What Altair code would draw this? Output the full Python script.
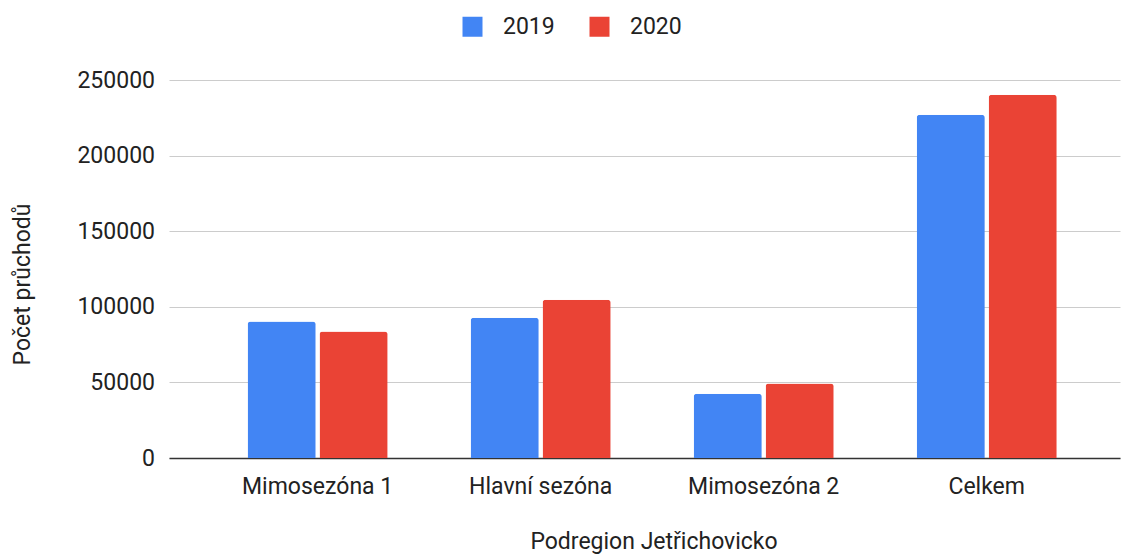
import altair as alt
import pandas as pd

categories = ["Mimosezóna 1", "Hlavní sezóna", "Mimosezóna 2", "Celkem"]
years = ["2019", "2020"]
values_2019 = [90300, 92800, 42500, 227000]
values_2020 = [83600, 104600, 49300, 240300]
y_ticks = [0, 50000, 100000, 150000, 200000, 250000]
colors = ["#4285F4", "#EA4335"]

rows = []
for c, a, b in zip(categories, values_2019, values_2020):
    rows.append({"cat": c, "rok": years[0], "val": a})
    rows.append({"cat": c, "rok": years[1], "val": b})
df = pd.DataFrame(rows)

FONT = "Roboto"
FS = 23

chart = alt.Chart(df).mark_bar(cornerRadiusTopLeft=3, cornerRadiusTopRight=3).encode(
    x=alt.X("cat:N", sort=categories,
            scale=alt.Scale(paddingInner=0.372, paddingOuter=0.318, align=0.554),
            axis=alt.Axis(title="Podregion Jetřichovicko", labelAngle=0, ticks=False, tickSize=0,
                          labelPadding=17, domainColor="#333333", domainWidth=1.5,
                          labelFont=FONT, labelFontSize=FS, labelColor="#222222",
                          titleFont=FONT, titleFontSize=FS, titleColor="#222222", titleFontWeight="normal",
                          titleX=484.5, titleY=90, titleAlign="center", titleBaseline="alphabetic")),
    xOffset=alt.XOffset("rok:N", sort=years, scale=alt.Scale(paddingInner=0.053, paddingOuter=0)),
    y=alt.Y("val:Q", scale=alt.Scale(domain=[0, 250000], nice=False),
            axis=alt.Axis(title="Počet průchodů", values=y_ticks, format="d", ticks=False, tickSize=0,
                          domain=False, labelPadding=14.5, gridColor="#cccccc", gridWidth=1,
                          labelFont=FONT, labelFontSize=FS, labelColor="#222222",
                          titleFont=FONT, titleFontSize=FS, titleColor="#222222", titleFontWeight="normal",
                          titleAngle=270, titleX=-140, titleY=204, titleAlign="center",
                          titleBaseline="alphabetic")),
    color=alt.Color("rok:N", sort=years, scale=alt.Scale(domain=years, range=colors),
                    legend=alt.Legend(title=None, orient="none", legendX=292, legendY=-65,
                                      direction="horizontal", symbolType="square", symbolSize=400,
                                      symbolStrokeWidth=0, labelOffset=19, columnPadding=33,
                                      padding=0, labelFont=FONT, labelFontSize=FS,
                                      labelColor="#222222")),
).properties(
    width=951, height=378,
    padding={"left": 161, "top": 72, "right": 1, "bottom": 98},
    autosize=alt.AutoSizeParams(type="none"),
).configure_view(stroke=None)

chart.save("out.html", embed_options={"renderer": "svg", "actions": False})
